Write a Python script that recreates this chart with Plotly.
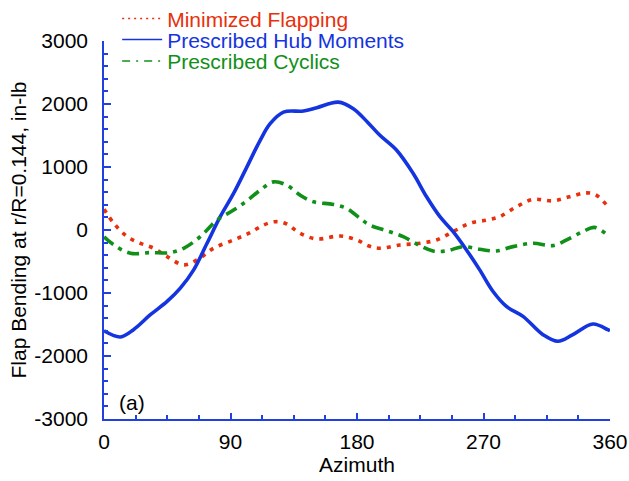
import plotly.graph_objects as go

# Data
az_hub = [0, 11.7, 21, 33, 44.9, 54.3, 63.8, 73.3, 82.7, 92.2, 101.7, 111.1, 118.2, 127.7,
          141.9, 151.4, 166.7, 177.4, 188, 196.3, 208.2, 220, 229.5, 239, 248.4, 257.9,
          267.3, 276.8, 286.3, 298.1, 312.3, 322.9, 333.6, 347.8, 358.4, 360]
m_hub = [-1600, -1698, -1582, -1345, -1134, -923, -633, -211, 211, 580, 1002, 1424, 1688, 1872,
         1888, 1941, 2030, 1925, 1700, 1503, 1266, 897, 527, 211, -26, -316,
         -633, -976, -1213, -1371, -1661, -1767, -1661, -1493, -1582, -1600]

az_flap = [0, 7, 16.5, 25.9, 35.4, 44.9, 56.7, 66.2, 78, 92.2, 104, 113.5, 121.8, 130, 139.5,
           151.4, 168, 179.8, 188, 196.3, 210.5, 224.7, 236.6, 248.4, 260.2, 272.1, 281.5,
           293.4, 305.2, 319.4, 331.3, 343.1, 350.2, 358.4, 360]
m_flap = [330, 106, -106, -211, -290, -422, -554, -475, -290, -158, -42, 79, 132, 95, -53,
          -142, -95, -158, -250, -290, -237, -211, -158, -26, 106, 158, 211,
          369, 485, 464, 527, 590, 554, 380, 350]

az_cyc = [0, 7, 18.8, 33, 47.2, 56.7, 66.2, 73.3, 80.4, 92.2, 101.7, 111.1, 120.6, 130, 139.5,
          149, 163.2, 172.7, 182.1, 189, 201, 212.9, 224.7, 234.1, 243.7, 255.4, 267.3,
          279.2, 291, 305.2, 319.4, 331.3, 340.7, 349, 358.4, 360]
m_cyc = [-110, -237, -369, -359, -359, -290, -148, 0, 158, 316, 464, 633, 764, 712, 554,
         448, 406, 343, 185, 79, -11, -106, -248, -332, -332, -264, -306,
         -332, -264, -211, -248, -132, -26, 42, -79, -100]

x_ticks = [0, 90, 180, 270, 360]
y_ticks = [-3000, -2000, -1000, 0, 1000, 2000, 3000]
y_tick_text = ["-3000", "-2000", "-1000", "0", "1000", "2000", "3000"]

names = ["Minimized Flapping", "Prescribed Hub Moments", "Prescribed Cyclics"]
colors = ["#e8300c", "#1434e0", "#109018"]
series = [(az_flap, m_flap), (az_hub, m_hub), (az_cyc, m_cyc)]
dashes = ["4px,6px", "solid", "12px,6px,4px,6px"]
legend_dashes = ["2px,4px", "solid", "8px,6px,2px,6px"]
legend_ids = ["legend", "legend2", "legend3"]
legend_y = [1.0586, 1.0032, 0.9459]

fig = go.Figure()
for (xs, ys), nm, col, ds in zip(series, names, colors, dashes):
    fig.add_trace(go.Scatter(x=xs, y=ys, mode="lines", line_shape="spline",
                             showlegend=False,
                             line=dict(color=col, width=3.6, dash=ds)))
# legend entries (thin sample lines as in the original)
for nm, col, ds, lid in zip(names, colors, legend_dashes, legend_ids):
    fig.add_trace(go.Scatter(x=[None], y=[None], mode="lines", legend=lid,
                             name=f"<span style='color:{col}'>{nm}</span>",
                             line=dict(color=col, width=1.5, dash=ds)))

FONT = "Liberation Sans, Arial, Helvetica, sans-serif"
leg_common = dict(x=0.026, xanchor="left", yanchor="middle", bgcolor="rgba(0,0,0,0)",
                  font=dict(size=21, family=FONT), itemwidth=40, borderwidth=0)

axis_col = "#2040e0"
fig.update_layout(
    width=629, height=481,
    margin=dict(l=103.5, r=18.5, t=40.5, b=61.5, autoexpand=False),
    plot_bgcolor="white", paper_bgcolor="white",
    font=dict(family=FONT, size=21, color="black"),
    showlegend=True,
    legend=dict(y=legend_y[0], **leg_common),
    legend2=dict(y=legend_y[1], **leg_common),
    legend3=dict(y=legend_y[2], **leg_common),
    xaxis=dict(range=[0, 360], tickvals=x_ticks, automargin=False,
               showline=True, linecolor=axis_col, linewidth=1.5,
               ticks="inside", tickcolor=axis_col, ticklen=6, tickwidth=1.5,
               minor=dict(dtick=22.5, ticks="inside", ticklen=4, tickcolor=axis_col),
               showgrid=False, zeroline=False, ticklabelstandoff=3,
               tickfont=dict(size=21),
               title=dict(text="Azimuth", standoff=2, font=dict(size=21))),
    yaxis=dict(range=[-3000, 3000], tickvals=y_ticks, ticktext=y_tick_text,
               automargin=False,
               showline=True, linecolor=axis_col, linewidth=1.5,
               ticks="inside", tickcolor=axis_col, ticklen=7, tickwidth=1.5,
               minor=dict(dtick=200, ticks="inside", ticklen=4, tickcolor=axis_col),
               showgrid=False, zeroline=False, ticklabelstandoff=10,
               tickfont=dict(size=21),
               title=dict(text="Flap Bending at r/R=0.144, in-lb", standoff=2,
                          font=dict(size=21))),
    annotations=[dict(x=0.026, y=0.0443, xref="paper", yref="paper", text="(a)",
                      showarrow=False, xanchor="left", yanchor="middle",
                      font=dict(size=21, color="black"))],
)

fig.write_html("out.html")
